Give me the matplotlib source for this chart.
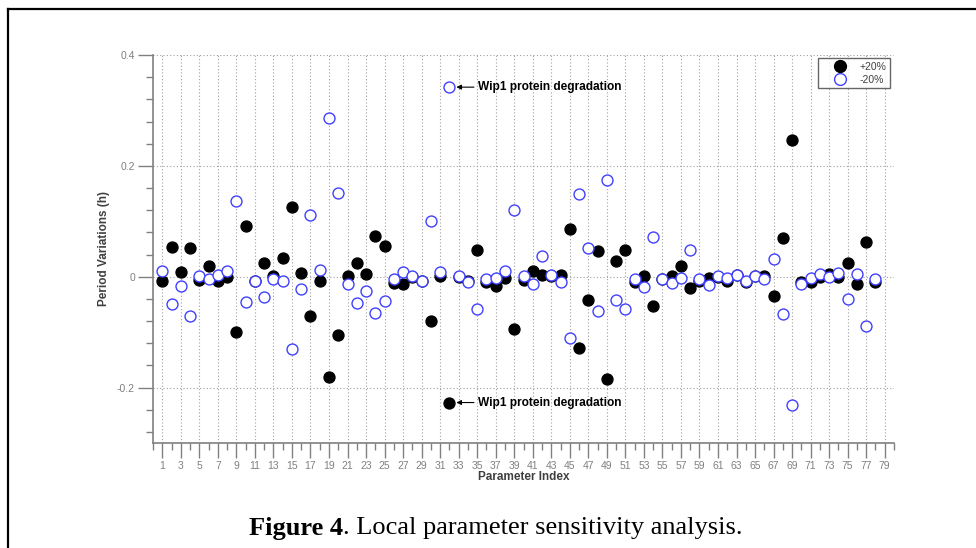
import numpy as np
import matplotlib
matplotlib.use("Agg")
import matplotlib.pyplot as plt
from matplotlib.lines import Line2D
from matplotlib.ticker import MultipleLocator

plt.rcParams["font.family"] = ["Liberation Sans", "DejaVu Sans"]

# sensitivity values, parameters 1..78
plus20 = [
    -0.007, 0.053, 0.008, 0.052, -0.006, 0.019, -0.007, -0.001, -0.099, 0.092,
    -0.008, 0.025, 0.001, 0.034, 0.125, 0.006, -0.070, -0.008, -0.181, -0.106,
    0.001, 0.025, 0.005, 0.073, 0.056, -0.011, -0.013, -0.001, -0.007, -0.080,
    0.001, -0.227, 0.000, -0.007, 0.049, -0.010, -0.016, -0.003, -0.095, -0.006,
    0.011, 0.003, 0.002, 0.003, 0.086, -0.128, -0.042, 0.047, -0.184, 0.028,
    0.049, -0.009, 0.002, -0.053, -0.005, 0.002, 0.019, -0.020, -0.008, -0.002,
    0.000, -0.007, 0.003, -0.010, 0.001, 0.002, -0.035, 0.069, 0.246, -0.009,
    -0.010, -0.001, 0.004, 0.000, 0.025, -0.014, 0.062, -0.009,
]
minus20 = [
    0.011, -0.049, -0.016, -0.071, 0.001, -0.004, 0.003, 0.010, 0.137, -0.046,
    -0.008, -0.037, -0.004, -0.007, -0.130, -0.022, 0.112, 0.012, 0.286, 0.151,
    -0.013, -0.047, -0.025, -0.066, -0.044, -0.005, 0.008, 0.002, -0.007, 0.100,
    0.008, 0.342, 0.001, -0.010, -0.059, -0.005, -0.003, 0.011, 0.120, 0.002,
    -0.013, 0.038, 0.003, -0.010, -0.110, 0.150, 0.052, -0.062, 0.175, -0.042,
    -0.059, -0.004, -0.019, 0.071, -0.004, -0.011, -0.003, 0.049, -0.005, -0.015,
    0.001, -0.003, 0.003, -0.007, 0.001, -0.004, 0.032, -0.068, -0.231, -0.014,
    -0.003, 0.004, -0.001, 0.006, -0.041, 0.004, -0.089, -0.004,
]
idx = np.arange(1, len(plus20) + 1)
xticks = np.arange(1, 80, 2)
yticks = [-0.2, 0, 0.2, 0.4]
ytick_labels = ["-0.2", "0", "0.2", "0.4"]
wip1 = 32
note = "Wip1 protein degradation"

gray = "#808080"
blue = "#4040ff"

fig = plt.figure(figsize=(9.76, 5.48), dpi=100)
ax = fig.add_axes([153 / 976, 1 - 443 / 548, (894 - 153) / 976, (443 - 55) / 548])

ax.scatter(idx, plus20, s=62, c="black", edgecolors="black", zorder=3)
ax.scatter(idx, minus20, s=62, facecolors="white", edgecolors=blue,
           linewidths=1.0, zorder=4)

ax.set_xlim(0, 80)
ax.set_ylim(-0.3, 0.4)
ax.set_xticks(xticks)
ax.set_xticks(np.arange(0, 81, 1), minor=True)
ax.set_yticks(yticks)
ax.set_yticklabels(ytick_labels)
ax.yaxis.set_minor_locator(MultipleLocator(0.04))

for side in ["top", "right"]:
    ax.spines[side].set_visible(False)
for side in ["left", "bottom"]:
    ax.spines[side].set_color(gray)
    ax.spines[side].set_linewidth(1.2)

ax.tick_params(axis="both", which="major", length=11, width=1, color=gray,
               labelcolor=gray, labelsize=7.5)
ax.tick_params(axis="both", which="minor", length=5, width=1, color=gray)
ax.tick_params(axis="x", pad=2)
ax.tick_params(axis="y", pad=2)

ax.grid(True, which="major", linestyle=(0, (1, 2)), color="#a0a0a0",
        linewidth=0.8)
ax.set_axisbelow(True)

ax.set_xlabel("Parameter Index", fontsize=8.5, color="#404040",
              fontweight="bold", labelpad=0)
ax.set_ylabel("Period Variations (h)", fontsize=8.5, color="#404040",
              fontweight="bold", labelpad=5)

# annotations for the Wip1 point
for val in [minus20[wip1 - 1], plus20[wip1 - 1]]:
    ax.annotate(note, xy=(wip1, val), xytext=(wip1 + 3.1, val),
                fontsize=8.6, fontweight="bold", va="center", ha="left",
                arrowprops=dict(arrowstyle="-|>", color="black", lw=0.8,
                                shrinkA=1, shrinkB=5, mutation_scale=7))

handles = [
    Line2D([], [], marker="o", linestyle="none", markersize=8.5,
           markerfacecolor="black", markeredgecolor="black"),
    Line2D([], [], marker="o", linestyle="none", markersize=8.5,
           markerfacecolor="white", markeredgecolor=blue),
]
leg = ax.legend(handles, ["+20%", "-20%"], loc="upper right",
                bbox_to_anchor=(890 / 976, 1 - 58 / 548),
                bbox_transform=fig.transFigure, fontsize=7.5, frameon=True,
                fancybox=False, edgecolor="#404040", handletextpad=0.2,
                borderpad=0.35, labelspacing=0.3, handlelength=3.4,
                borderaxespad=0)
leg.get_frame().set_linewidth(1.0)
for t in leg.get_texts():
    t.set_color("#404040")

# page frame
fig.add_artist(Line2D([8 / 976, 1.0], [1 - 8.5 / 548, 1 - 8.5 / 548],
                      transform=fig.transFigure, color="black", lw=1.6))
fig.add_artist(Line2D([8 / 976, 8 / 976], [0, 1 - 8.5 / 548],
                      transform=fig.transFigure, color="black", lw=1.6))

# caption
serif = ["Liberation Serif", "DejaVu Serif"]
cap_y = 1 - 528 / 548
t1 = fig.text(249 / 976, cap_y, "Figure 4", fontsize=19, fontweight="bold",
              family=serif, va="center", ha="left")
fig.canvas.draw()
bb = t1.get_window_extent()
fig.text(bb.x1 / fig.bbox.width, cap_y, ". Local parameter sensitivity analysis.",
         fontsize=19, family=serif, va="center", ha="left")

fig.savefig("out.png", dpi=100)
